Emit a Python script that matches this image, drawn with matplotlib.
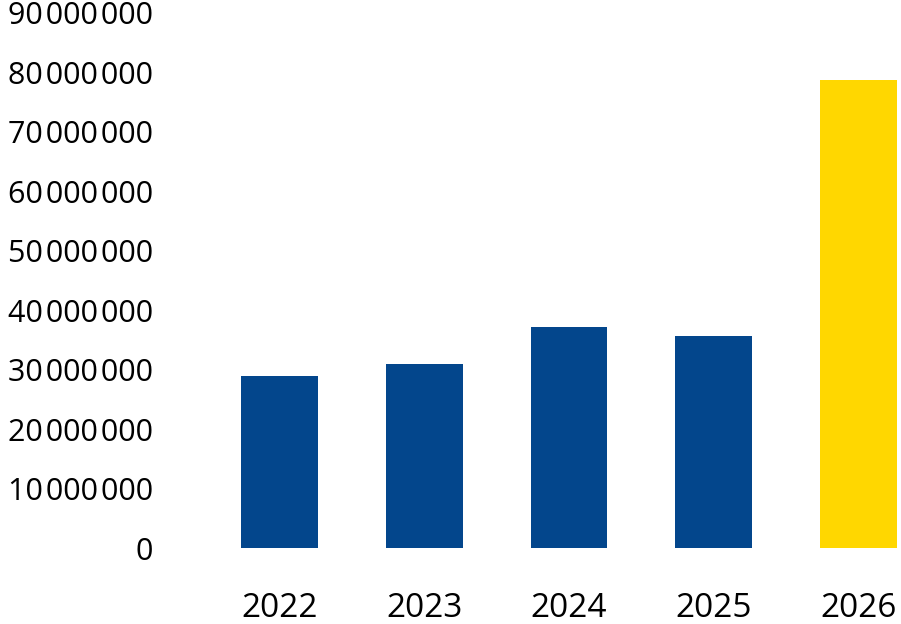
import matplotlib.pyplot as plt
from matplotlib.ticker import FuncFormatter

years = ['2022', '2023', '2024', '2025', '2026']
values = [28.9e6, 30.9e6, 37.2e6, 35.6e6, 78.7e6]
colors = ['#03468c', '#03468c', '#03468c', '#03468c', '#ffd700']

plt.rcParams['font.family'] = ['Open Sans', 'DejaVu Sans']

fig = plt.figure(figsize=(9.01, 6.24), dpi=100)
ax = fig.add_axes([207 / 901, 1 - 548 / 624, 1 - 207 / 901, (548 - 13) / 624])

x = range(len(years))
ax.bar(x, values, width=0.53, color=colors)

ax.set_xlim(-0.5, 4.5 - 30 / 145)
ax.set_ylim(0, 90e6)
ax.set_yticks([i * 10e6 for i in range(10)])
ax.yaxis.set_major_formatter(FuncFormatter(lambda v, p: f'{int(v):,}'.replace(',', '\u200a')))
ax.set_xticks(list(x))
ax.set_xticklabels(years)

for s in ax.spines.values():
    s.set_visible(False)
ax.tick_params(axis='y', length=0, pad=39, labelsize=22)
ax.tick_params(axis='x', length=0, pad=32, labelsize=24)

fig.savefig('out.png', dpi=100)
